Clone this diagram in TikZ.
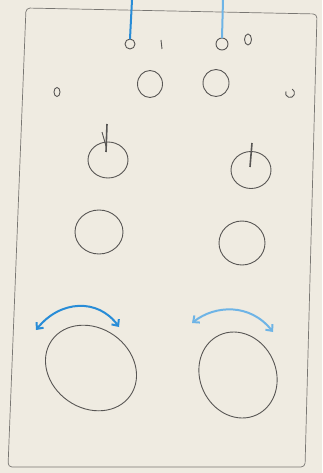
\documentclass[tikz,border=0pt]{standalone}
\usetikzlibrary{arrows.meta}

\definecolor{paper}{RGB}{239,235,225}
\definecolor{pencil}{RGB}{88,86,84}
\definecolor{frameline}{RGB}{120,118,114}
\definecolor{inkblue}{RGB}{40,140,215}
\definecolor{paleblue}{RGB}{110,180,230}

\tikzset{
	sketch/.style={draw=pencil, line width=0.9pt},
	frame/.style={draw=frameline, line width=0.7pt},
	bluestroke/.style={line width=2pt, line cap=round},
	hole/.style={sketch, circle, inner sep=0pt},
	swing/.style={bluestroke, {Straight Barb[length=5pt,width=9pt]}-{Straight Barb[length=5pt,width=9pt]}}
}

\begin{document}
\begin{tikzpicture}[x=1pt,y=-1pt]
		% Paper and the drawn frame
		\fill[paper] (0,0) rectangle (322,473);
		\useasboundingbox (0,0) rectangle (322,473);
		\draw[frame, rounded corners=4pt] (8,467) -- (26,8) -- (317,14) -- (305,467) -- cycle;
		
		% Top row: small holes with the blue strings
		\node[hole, minimum width=10pt, minimum height=10pt] (holeL) at (130,44) {};
		\node[hole, minimum width=9pt, minimum height=12pt] (holeR) at (222,44) {};
		\coordinate (topL) at (132,0);
		\coordinate (topR) at (223,0);
		\draw[bluestroke, inkblue] (topL) -- (holeL.north);
		\draw[bluestroke, paleblue] (topR) -- (holeR.north);
		
		% Little marks around the top holes
		\draw[sketch] (161,40) -- (162,49);
		\draw[sketch] (248,45) arc (90:450:3.5 and 5.5);
		\draw[sketch] (57,92) ellipse (3 and 4.5);
		\draw[sketch] (285.8,91.5) arc (-160:-420:4.5 and 4.5);
		
		% Second row: two small rings
		\draw[sketch] (150,84) ellipse (12.5 and 13.5);
		\draw[sketch] (216,83) ellipse (13 and 13.5);
		
		% Third row: rings with pins
		\draw[sketch] (108,160) ellipse (20 and 18);
		\draw[sketch, line width=1.6pt] (107,124) -- (106,152);
		\draw[sketch] (102,132) -- (106,146);
		\draw[sketch] (251,170) ellipse (20 and 18.5);
		\draw[sketch, line width=1.6pt] (252,143) -- (250,167);
		
		% Fourth row: plain rings
		\draw[sketch] (99,232) ellipse (24 and 22);
		\draw[sketch] (242,243) ellipse (23 and 22);
		
		% Bottom row: large eggs with the swing arrows
		\draw[sketch, rotate around={-35:(91,368)}] (91,368) ellipse (48 and 40);
		\draw[sketch, rotate around={-65:(238,375)}] (238,375) ellipse (44 and 38);
		\draw[swing, inkblue] (36,330) .. controls (60,300) and (98,298) .. (119,327);
		\draw[swing, paleblue] (192,323) .. controls (215,305) and (250,303) .. (273,332);
	\end{tikzpicture}
\end{document}
